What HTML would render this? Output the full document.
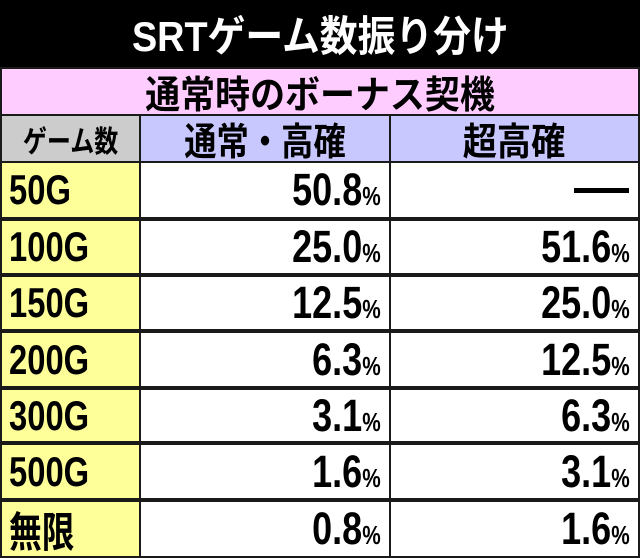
<!DOCTYPE html>
<html><head><meta charset="utf-8">
<style>
body{margin:0;width:640px;height:558px;background:#1a1a1a;overflow:hidden;position:relative;font-family:"Liberation Sans","Noto Sans CJK JP",sans-serif;font-weight:bold;}
.c{position:absolute;box-sizing:border-box;display:flex;align-items:center;overflow:hidden;color:#000;}
.t{display:inline-block;transform:scaleX(0.8);white-space:nowrap;}
.num{font-size:45px;letter-spacing:0px;}
.pct{font-size:26px;}
</style></head><body>
<div class="c" style="left:0;top:0;width:640px;height:67px;background:#000;color:#fff;justify-content:center;font-size:42px;"><span class="t" style="transform:scaleX(0.9);color:#fff">SRTゲーム数振り分け</span></div>
<div class="c" style="left:2px;top:69px;width:636px;height:45px;background:#ffccff;justify-content:center;font-size:38px;"><span class="t" style="transform:scaleX(0.92)">通常時のボーナス契機</span></div>
<div class="c" style="left:2px;top:116px;width:137px;height:45px;background:#cccccc;justify-content:center;font-size:30px;"><span class="t" style="transform:scaleX(0.8)">ゲーム数</span></div>
<div class="c" style="left:141px;top:116px;width:248px;height:45px;background:#c8c8ff;justify-content:center;font-size:38px;"><span class="t" style="transform:scaleX(0.85)">通常・高確</span></div>
<div class="c" style="left:391px;top:116px;width:247px;height:45px;background:#c8c8ff;justify-content:center;font-size:38px;"><span class="t" style="transform:scaleX(0.9)">超高確</span></div>
<div id="rows"></div>
<script>
const games=["50G","100G","150G","200G","300G","500G","無限"];
const normal=[50.8,25.0,12.5,6.3,3.1,1.6,0.8];
const superHigh=[null,51.6,25.0,12.5,6.3,3.1,1.6];
const rowTops=[163,221,277,333,390,445,502];
const rowH=[54,52,52,53,51,53,54];
const root=document.getElementById('rows');
function cell(x,y,w,h,bg,html,just){
  const d=document.createElement('div');
  d.className='c';
  d.style.cssText=`left:${x}px;top:${y}px;width:${w}px;height:${h}px;background:${bg};justify-content:${just};`;
  d.innerHTML=html;
  root.appendChild(d);
  return d;
}
function valHtml(v){
  if(v===null) return '<span style="display:inline-block;width:55px;height:5px;background:#000;margin-right:9px"></span>';
  return '<span class="t num" style="transform-origin:right center;margin-right:8px">'+v.toFixed(1)+'<span class="pct">%</span></span>';
}
games.forEach((g,i)=>{
  const y=rowTops[i],h=rowH[i];
  const a=cell(2,y,137,h,'#ffff99','<span class="t" style="font-size:42px;transform:scaleX(0.78);transform-origin:left center;padding-left:9px">'+g+'</span>','flex-start');
  
  
  const b=cell(141,y,248,h,'#fff',valHtml(normal[i]),'flex-end');
  
  
  const c=cell(391,y,247,h,'#fff',valHtml(superHigh[i]),'flex-end');
  
  
});
</script>
</body></html>
